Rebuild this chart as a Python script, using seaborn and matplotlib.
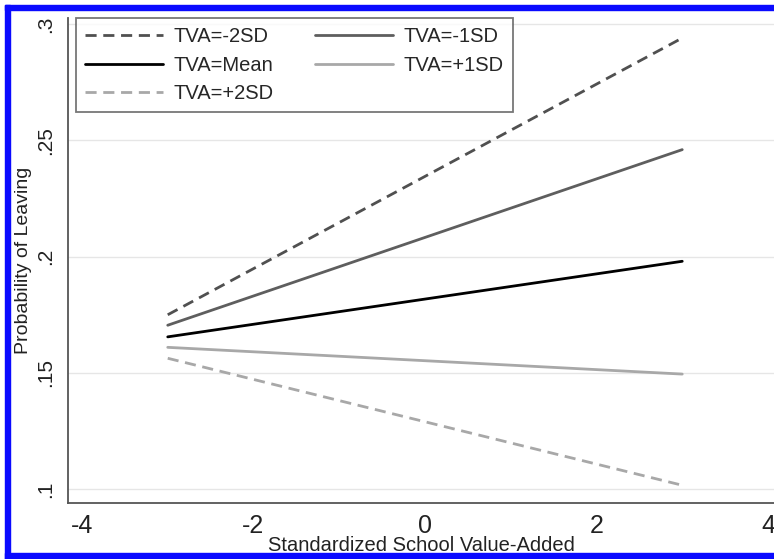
import numpy as np
import pandas as pd
import seaborn as sns
import matplotlib.pyplot as plt
from matplotlib.patches import Rectangle
from matplotlib.lines import Line2D

# data: predicted probability at school VA = -3 and +3
school_va = [-3, 3]
groups = ["TVA=-2SD", "TVA=-1SD", "TVA=Mean", "TVA=+1SD", "TVA=+2SD"]
prob_m2sd = [0.175, 0.294]
prob_m1sd = [0.1705, 0.246]
prob_mean = [0.1655, 0.198]
prob_p1sd = [0.161, 0.1495]
prob_p2sd = [0.1563, 0.1017]

x_ticks = [-4, -2, 0, 2, 4]
y_ticks = [0.1, 0.15, 0.2, 0.25, 0.3]
y_tick_labels = [".1", ".15", ".2", ".25", ".3"]

rows = []
for g, vals in zip(groups, [prob_m2sd, prob_m1sd, prob_mean, prob_p1sd, prob_p2sd]):
    for x, v in zip(school_va, vals):
        rows.append({"va": x, "prob": v, "group": g})
df = pd.DataFrame(rows)

colors = {"TVA=-2SD": "#505050", "TVA=-1SD": "#5e5e5e", "TVA=Mean": "#000000",
          "TVA=+1SD": "#a8a8a8", "TVA=+2SD": "#a8a8a8"}
dash = (4, 2.4)
dashes = {"TVA=-2SD": dash, "TVA=-1SD": "", "TVA=Mean": "",
          "TVA=+1SD": "", "TVA=+2SD": dash}

sns.set_style("white")
plt.rcParams['font.family'] = ['Liberation Sans', 'DejaVu Sans']
plt.rcParams['axes.unicode_minus'] = False

fig = plt.figure(figsize=(7.74, 5.59), dpi=100)
ax = fig.add_axes([68 / 774, 56.3 / 559, 1 - 68 / 774, 484.7 / 559])

sns.lineplot(data=df, x="va", y="prob", hue="group", style="group",
             palette=colors, dashes=dashes, linewidth=2.0, ax=ax, legend=False)

ax.set_xlim(-4.163, 4.07)
ax.set_ylim(0.0942, 0.3026)
ax.set_xticks(x_ticks)
ax.set_yticks(y_ticks)
ax.set_yticklabels(y_tick_labels, rotation=90, va="center")
ax.yaxis.grid(True, color="#e6e6e6", linewidth=1.0)
ax.xaxis.grid(False)
for s in ["top", "right"]:
    ax.spines[s].set_visible(False)
for s in ["left", "bottom"]:
    ax.spines[s].set_color("#555555")
    ax.spines[s].set_linewidth(1.3)
ax.tick_params(axis="both", direction="out", length=6, width=1.1, color="#555555",
               labelcolor="#222222", pad=2)
ax.tick_params(axis="x", labelsize=18)
ax.tick_params(axis="y", labelsize=15, pad=3)
tick_font = ['Liberation Sans Narrow', 'Liberation Sans']
for lab in ax.get_xticklabels() + ax.get_yticklabels():
    lab.set_family(tick_font)
ax.set_xlabel("Standardized School Value-Added", fontsize=14.5, labelpad=-1.5, color="#222222")
ax.set_ylabel("Probability of Leaving", fontsize=14, labelpad=3, color="#222222")

# legend, column-wise order to get the 2-column layout
order = ["TVA=-2SD", "TVA=Mean", "TVA=+2SD", "TVA=-1SD", "TVA=+1SD"]
handles = []
for g in order:
    h = Line2D([], [], color=colors[g], linewidth=2.0)
    if dashes[g]:
        h.set_dashes(dashes[g])
    handles.append(h)
leg = ax.legend(handles, order, ncol=2, loc="upper left", bbox_to_anchor=(0.0113, 1.0),
                borderaxespad=0, fontsize=14.5, handlelength=3.85, handletextpad=0.5,
                columnspacing=2.1, labelspacing=0.46, frameon=True, fancybox=False,
                borderpad=0.47)
leg.get_frame().set_edgecolor("#555555")
leg.get_frame().set_linewidth(1.3)

# blue border
blue = "#0a0aff"
W, H = 774, 559
fig.add_artist(Rectangle((5 / W, 0), 5 / W, (H - 5) / H, transform=fig.transFigure,
                         color=blue, zorder=10))
fig.add_artist(Rectangle((5 / W, (H - 10) / H), 1, 5 / H, transform=fig.transFigure,
                         color=blue, zorder=10))
fig.add_artist(Rectangle((5 / W, 0), 1, 6 / H, transform=fig.transFigure,
                         color=blue, zorder=10))

fig.savefig("out.png", dpi=100, facecolor="white")
